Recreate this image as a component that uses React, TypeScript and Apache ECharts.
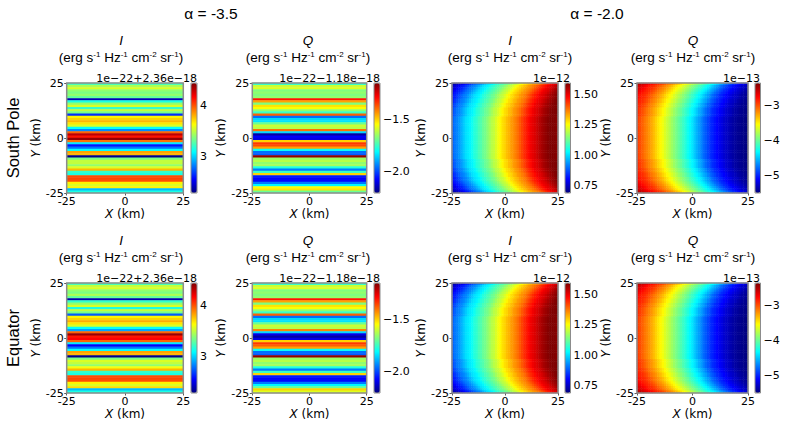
import { useEffect, useRef } from "react";
import * as echarts from "echarts";

// stripes, top row first, 50 rows per panel (offset units of 1e-22)
const SP_I_35 = [
  3.25, 3.45, 3.55, 3.4, 3.35, 3.4, 3.3, 2.4, 3.15, 3.4,
  3.55, 3.2, 3.5, 3.35, 2.65, 3.65, 3.72, 3.78, 3.68, 3.55,
  3.1, 2.85, 3.95, 4.3, 4.12, 4.38, 3.92, 3.05, 2.6, 2.8,
  3.1, 3.82, 3.78, 2.32, 3.35, 3.5, 3.5, 3.4, 3.55, 3.78,
  3.2, 3.15, 4.0, 4.02, 4.0, 3.65, 3.55, 3.65, 2.95, 3.15,
];
const SP_Q_35 = [
  -1.75, -1.6, -1.58, -1.68, -1.66, -1.68, -1.66, -1.3, -1.45, -1.68,
  -1.52, -1.55, -1.66, -1.75, -1.38, -1.96, -1.85, -1.84, -1.7, -1.6,
  -1.62, -1.4, -1.85, -2.17, -2.08, -2.1, -1.5, -1.34, -1.36, -1.45,
  -1.8, -1.96, -1.98, -1.17, -1.65, -1.62, -1.66, -1.64, -1.78, -1.95,
  -1.75, -1.5, -2.05, -2.08, -2.07, -1.95, -1.82, -1.55, -1.52, -1.7,
];
const EQ_I_35 = [
  3.25, 3.5, 3.55, 3.4, 3.35, 3.45, 3.3, 2.38, 3.2, 3.4,
  3.55, 3.15, 3.5, 3.35, 2.75, 3.65, 3.72, 3.8, 3.68, 3.55,
  3.1, 2.9, 3.95, 4.38, 4.12, 4.16, 3.95, 3.05, 2.55, 2.8,
  3.1, 3.82, 3.78, 2.32, 3.35, 3.55, 3.5, 3.4, 3.6, 3.78,
  3.2, 3.15, 4.0, 4.02, 4.0, 3.65, 3.55, 3.7, 2.95, 3.15,
];
const EQ_Q_35 = [
  -1.75, -1.6, -1.58, -1.68, -1.66, -1.68, -1.66, -1.3, -1.45, -1.68,
  -1.52, -1.55, -1.66, -1.75, -1.38, -1.96, -1.85, -1.84, -1.7, -1.6,
  -1.62, -1.42, -1.85, -2.1, -2.17, -2.1, -1.5, -1.34, -1.38, -1.45,
  -1.8, -1.96, -1.98, -1.17, -1.65, -1.62, -1.66, -1.64, -1.78, -1.95,
  -1.75, -1.5, -2.05, -2.08, -2.07, -1.95, -1.82, -1.7, -1.5, -1.58,
];

// alpha = -2.0, rows read across x = -24..24, from the edge of the disc (A) to its middle (J)
const I_A = [0.735, 0.74, 0.75, 0.77, 0.78, 0.8, 0.82, 0.83, 0.85, 0.87, 0.89, 0.91, 0.92, 0.94, 0.96, 0.98, 1.0, 1.01, 1.02, 1.04, 1.06, 1.07, 1.09, 1.1, 1.12, 1.13, 1.15, 1.17, 1.19, 1.2, 1.22, 1.24, 1.26, 1.28, 1.29, 1.31, 1.32, 1.34, 1.35, 1.365, 1.38, 1.4, 1.42, 1.44, 1.455, 1.47, 1.49, 1.5, 1.51];
const I_B = [0.75, 0.77, 0.78, 0.8, 0.82, 0.83, 0.85, 0.87, 0.89, 0.91, 0.92, 0.94, 0.96, 0.98, 1.0, 1.01, 1.02, 1.04, 1.06, 1.07, 1.09, 1.1, 1.12, 1.13, 1.15, 1.17, 1.19, 1.2, 1.22, 1.24, 1.26, 1.28, 1.29, 1.31, 1.32, 1.34, 1.35, 1.365, 1.38, 1.4, 1.42, 1.44, 1.455, 1.47, 1.49, 1.5, 1.51, 1.525, 1.54];
const I_C = [0.77, 0.78, 0.8, 0.82, 0.83, 0.85, 0.87, 0.89, 0.91, 0.92, 0.94, 0.96, 0.98, 1.0, 1.01, 1.02, 1.04, 1.06, 1.07, 1.09, 1.1, 1.12, 1.13, 1.15, 1.17, 1.19, 1.2, 1.22, 1.24, 1.26, 1.28, 1.29, 1.31, 1.32, 1.34, 1.35, 1.365, 1.38, 1.4, 1.42, 1.44, 1.455, 1.47, 1.49, 1.5, 1.51, 1.525, 1.54, 1.555];
const I_D = [0.78, 0.8, 0.82, 0.83, 0.85, 0.87, 0.89, 0.91, 0.92, 0.94, 0.96, 0.98, 1.0, 1.01, 1.02, 1.04, 1.06, 1.07, 1.09, 1.1, 1.12, 1.13, 1.15, 1.17, 1.19, 1.2, 1.22, 1.24, 1.26, 1.28, 1.29, 1.31, 1.32, 1.34, 1.35, 1.365, 1.38, 1.4, 1.42, 1.44, 1.455, 1.47, 1.49, 1.5, 1.51, 1.525, 1.54, 1.555, 1.565];
const I_E = [0.8, 0.82, 0.83, 0.85, 0.87, 0.89, 0.91, 0.92, 0.94, 0.96, 0.98, 1.0, 1.01, 1.02, 1.04, 1.06, 1.07, 1.09, 1.1, 1.12, 1.13, 1.15, 1.17, 1.19, 1.2, 1.22, 1.24, 1.26, 1.28, 1.29, 1.31, 1.32, 1.34, 1.35, 1.365, 1.38, 1.4, 1.42, 1.44, 1.455, 1.47, 1.49, 1.5, 1.51, 1.525, 1.54, 1.555, 1.565, 1.575];
const I_F = [0.82, 0.83, 0.85, 0.87, 0.89, 0.91, 0.92, 0.94, 0.96, 0.98, 1.0, 1.01, 1.02, 1.04, 1.06, 1.07, 1.09, 1.1, 1.12, 1.13, 1.15, 1.17, 1.19, 1.2, 1.22, 1.24, 1.26, 1.28, 1.29, 1.31, 1.32, 1.34, 1.35, 1.365, 1.38, 1.4, 1.42, 1.44, 1.455, 1.47, 1.49, 1.5, 1.51, 1.525, 1.54, 1.555, 1.565, 1.575, 1.585];
const I_G = [0.83, 0.85, 0.87, 0.89, 0.91, 0.92, 0.94, 0.96, 0.98, 1.0, 1.01, 1.02, 1.04, 1.06, 1.07, 1.09, 1.1, 1.12, 1.13, 1.15, 1.17, 1.19, 1.2, 1.22, 1.24, 1.26, 1.28, 1.29, 1.31, 1.32, 1.34, 1.35, 1.365, 1.38, 1.4, 1.42, 1.44, 1.455, 1.47, 1.49, 1.5, 1.51, 1.525, 1.54, 1.555, 1.565, 1.575, 1.585, 1.59];
const I_H = [0.85, 0.87, 0.89, 0.91, 0.92, 0.94, 0.96, 0.98, 1.0, 1.01, 1.02, 1.04, 1.06, 1.07, 1.09, 1.1, 1.12, 1.13, 1.15, 1.17, 1.19, 1.2, 1.22, 1.24, 1.26, 1.28, 1.29, 1.31, 1.32, 1.34, 1.35, 1.365, 1.38, 1.4, 1.42, 1.44, 1.455, 1.47, 1.49, 1.5, 1.51, 1.525, 1.54, 1.555, 1.565, 1.575, 1.585, 1.59, 1.59];
const I_I = [0.87, 0.89, 0.91, 0.92, 0.94, 0.96, 0.98, 1.0, 1.01, 1.02, 1.04, 1.06, 1.07, 1.09, 1.1, 1.12, 1.13, 1.15, 1.17, 1.19, 1.2, 1.22, 1.24, 1.26, 1.28, 1.29, 1.31, 1.32, 1.34, 1.35, 1.365, 1.38, 1.4, 1.42, 1.44, 1.455, 1.47, 1.49, 1.5, 1.51, 1.525, 1.54, 1.555, 1.565, 1.575, 1.585, 1.59, 1.59, 1.59];
const I_J = [0.89, 0.91, 0.92, 0.94, 0.96, 0.98, 1.0, 1.01, 1.02, 1.04, 1.06, 1.07, 1.09, 1.1, 1.12, 1.13, 1.15, 1.17, 1.19, 1.2, 1.22, 1.24, 1.26, 1.28, 1.29, 1.31, 1.32, 1.34, 1.35, 1.365, 1.38, 1.4, 1.42, 1.44, 1.455, 1.47, 1.49, 1.5, 1.51, 1.525, 1.54, 1.555, 1.565, 1.575, 1.585, 1.59, 1.59, 1.59, 1.58];

const Q_A = [-2.53, -2.56, -2.61, -2.65, -2.68, -2.73, -2.78, -2.83, -2.87, -2.9, -2.95, -3.0, -3.06, -3.12, -3.17, -3.22, -3.28, -3.34, -3.41, -3.47, -3.53, -3.59, -3.66, -3.72, -3.78, -3.85, -3.91, -3.97, -4.03, -4.1, -4.16, -4.22, -4.29, -4.35, -4.41, -4.49, -4.57, -4.63, -4.71, -4.79, -4.85, -4.91, -4.98, -5.02, -5.07, -5.12, -5.16, -5.21, -5.26];
const Q_B = [-2.61, -2.65, -2.68, -2.73, -2.78, -2.83, -2.87, -2.9, -2.95, -3.0, -3.06, -3.12, -3.17, -3.22, -3.28, -3.34, -3.41, -3.47, -3.53, -3.59, -3.66, -3.72, -3.78, -3.85, -3.91, -3.97, -4.03, -4.1, -4.16, -4.22, -4.29, -4.35, -4.41, -4.49, -4.57, -4.63, -4.71, -4.79, -4.85, -4.91, -4.98, -5.02, -5.07, -5.12, -5.16, -5.21, -5.26, -5.29, -5.32];
const Q_C = [-2.65, -2.68, -2.73, -2.78, -2.83, -2.87, -2.9, -2.95, -3.0, -3.06, -3.12, -3.17, -3.22, -3.28, -3.34, -3.41, -3.47, -3.53, -3.59, -3.66, -3.72, -3.78, -3.85, -3.91, -3.97, -4.03, -4.1, -4.16, -4.22, -4.29, -4.35, -4.41, -4.49, -4.57, -4.63, -4.71, -4.79, -4.85, -4.91, -4.98, -5.02, -5.07, -5.12, -5.16, -5.21, -5.26, -5.29, -5.32, -5.37];
const Q_D = [-2.68, -2.73, -2.78, -2.83, -2.87, -2.9, -2.95, -3.0, -3.06, -3.12, -3.17, -3.22, -3.28, -3.34, -3.41, -3.47, -3.53, -3.59, -3.66, -3.72, -3.78, -3.85, -3.91, -3.97, -4.03, -4.1, -4.16, -4.22, -4.29, -4.35, -4.41, -4.49, -4.57, -4.63, -4.71, -4.79, -4.85, -4.91, -4.98, -5.02, -5.07, -5.12, -5.16, -5.21, -5.26, -5.29, -5.32, -5.37, -5.4];
const Q_E = [-2.73, -2.78, -2.83, -2.87, -2.9, -2.95, -3.0, -3.06, -3.12, -3.17, -3.22, -3.28, -3.34, -3.41, -3.47, -3.53, -3.59, -3.66, -3.72, -3.78, -3.85, -3.91, -3.97, -4.03, -4.1, -4.16, -4.22, -4.29, -4.35, -4.41, -4.49, -4.57, -4.63, -4.71, -4.79, -4.85, -4.91, -4.98, -5.02, -5.07, -5.12, -5.16, -5.21, -5.26, -5.29, -5.32, -5.37, -5.4, -5.42];
const Q_F = [-2.78, -2.83, -2.87, -2.9, -2.95, -3.0, -3.06, -3.12, -3.17, -3.22, -3.28, -3.34, -3.41, -3.47, -3.53, -3.59, -3.66, -3.72, -3.78, -3.85, -3.91, -3.97, -4.03, -4.1, -4.16, -4.22, -4.29, -4.35, -4.41, -4.49, -4.57, -4.63, -4.71, -4.79, -4.85, -4.91, -4.98, -5.02, -5.07, -5.12, -5.16, -5.21, -5.26, -5.29, -5.32, -5.37, -5.4, -5.42, -5.45];
const Q_G = [-2.83, -2.87, -2.9, -2.95, -3.0, -3.06, -3.12, -3.17, -3.22, -3.28, -3.34, -3.41, -3.47, -3.53, -3.59, -3.66, -3.72, -3.78, -3.85, -3.91, -3.97, -4.03, -4.1, -4.16, -4.22, -4.29, -4.35, -4.41, -4.49, -4.57, -4.63, -4.71, -4.79, -4.85, -4.91, -4.98, -5.02, -5.07, -5.12, -5.16, -5.21, -5.26, -5.29, -5.32, -5.37, -5.4, -5.42, -5.45, -5.46];
const Q_H = [-2.87, -2.9, -2.95, -3.0, -3.06, -3.12, -3.17, -3.22, -3.28, -3.34, -3.41, -3.47, -3.53, -3.59, -3.66, -3.72, -3.78, -3.85, -3.91, -3.97, -4.03, -4.1, -4.16, -4.22, -4.29, -4.35, -4.41, -4.49, -4.57, -4.63, -4.71, -4.79, -4.85, -4.91, -4.98, -5.02, -5.07, -5.12, -5.16, -5.21, -5.26, -5.29, -5.32, -5.37, -5.4, -5.42, -5.45, -5.46, -5.48];
const Q_I = [-2.9, -2.95, -3.0, -3.06, -3.12, -3.17, -3.22, -3.28, -3.34, -3.41, -3.47, -3.53, -3.59, -3.66, -3.72, -3.78, -3.85, -3.91, -3.97, -4.03, -4.1, -4.16, -4.22, -4.29, -4.35, -4.41, -4.49, -4.57, -4.63, -4.71, -4.79, -4.85, -4.91, -4.98, -5.02, -5.07, -5.12, -5.16, -5.21, -5.26, -5.29, -5.32, -5.37, -5.4, -5.42, -5.45, -5.46, -5.48, -5.49];
const Q_J = [-2.95, -3.0, -3.06, -3.12, -3.17, -3.22, -3.28, -3.34, -3.41, -3.47, -3.53, -3.59, -3.66, -3.72, -3.78, -3.85, -3.91, -3.97, -4.03, -4.1, -4.16, -4.22, -4.29, -4.35, -4.41, -4.49, -4.57, -4.63, -4.71, -4.79, -4.85, -4.91, -4.98, -5.02, -5.07, -5.12, -5.16, -5.21, -5.26, -5.29, -5.32, -5.37, -5.4, -5.42, -5.45, -5.46, -5.48, -5.49, -5.51];

// rows for y = 24, 23, ... 0; the lower half of the disc mirrors them
const I_20_TOP = [I_A, I_B, I_C, I_D, I_E, I_F, I_F, I_G, I_G, I_H, I_H, I_I, I_I, I_I, I_I, I_J, I_J, I_J, I_J, I_J, I_J, I_J, I_J, I_J, I_J];
const Q_20_TOP = [Q_A, Q_B, Q_C, Q_D, Q_E, Q_F, Q_F, Q_G, Q_G, Q_H, Q_H, Q_I, Q_I, Q_I, Q_I, Q_J, Q_J, Q_J, Q_J, Q_J, Q_J, Q_J, Q_J, Q_J, Q_J];

const X_TICKS = [-25, 0, 25];
const ROW_TITLES = ["South Pole", "Equator"];
const ALPHA_TITLES = ["α = -3.5", "α = -2.0"];
const STOKES = ["I", "Q", "I", "Q"];
const OFFSET_TEXTS = ["1e−22+2.36e−18", "1e−22−1.18e−18", "1e−12", "1e−13"];
const CBAR_MIN = [2.29, -2.207, 0.69, -5.51];
const CBAR_MAX = [4.43, -1.15, 1.59, -2.37];
const CBAR_TICKS = [[3, 4], [-2, -1.5], [0.75, 1, 1.25, 1.5], [-5, -4, -3]];
const CBAR_DIGITS = [0, 1, 2, 0];

const JET = ["#00007f", "#0000ff", "#007fff", "#00ffff", "#7fff7f", "#ffff00", "#ff7f00", "#ff0000", "#7f0000"];
const TICK_FONT = "DejaVu Sans";
const TITLE_FONT = "Liberation Sans";

// layout in px
const PANEL_LEFT = [66.7, 252.3, 452, 637];
const PANEL_WIDTH = [116.6, 114.4, 106, 111];
const CBAR_LEFT = [191, 374, 565, 755];
const CBAR_WIDTH = [6, 6, 5.5, 5.5];
const OFFSET_RIGHT = [197, 380, 570, 760];
const TITLE_CENTER = [121, 308, 510, 693];
const ROW_TOP = [83, 283];
const ROW_HEIGHT = 110;

const mirrored = (rows: number[][]) => rows.concat(rows.slice(0, -1).reverse());

function stripes(values: number[]) {
  return values.map((v, row) => [0, row, v]);
}

function cells(rows: number[][]) {
  return mirrored(rows).flatMap((r, row) => r.map((v, col) => [col, row, v]));
}

const PANEL_DATA = [
  [stripes(SP_I_35), stripes(SP_Q_35), cells(I_20_TOP), cells(Q_20_TOP)],
  [stripes(EQ_I_35), stripes(EQ_Q_35), cells(I_20_TOP), cells(Q_20_TOP)],
];

function buildOption() {
  const grid: any[] = [];
  const xAxis: any[] = [];
  const yAxis: any[] = [];
  const series: any[] = [];
  const visualMap: any[] = [];
  const graphic: any[] = [];

  const tickLabel = { color: "#000", fontFamily: TICK_FONT, fontSize: 11, margin: 3 };
  const tickMark = { length: 2.5, lineStyle: { color: "#333", width: 0.8 } };
  const nameStyle = {
    color: "#000",
    fontFamily: TICK_FONT,
    fontSize: 12,
    rich: { i: { fontStyle: "italic", fontFamily: TICK_FONT, fontSize: 12, color: "#000" } },
  };

  ROW_TOP.forEach((top, r) => {
    STOKES.forEach((stokes, c) => {
      const data = PANEL_DATA[r][c];
      const cols = c < 2 ? 1 : I_20_TOP[0].length;
      const rows = c < 2 ? data.length : mirrored(I_20_TOP).length;

      // image panel: hidden category axes hold the cells, value axes show the km scale
      const g = grid.length;
      grid.push({
        left: PANEL_LEFT[c],
        top,
        width: PANEL_WIDTH[c],
        height: ROW_HEIGHT,
        show: true,
        z: 10,
        backgroundColor: "transparent",
        borderColor: "#8c8c8c",
        borderWidth: 1.5,
      });
      const xCat = xAxis.length;
      xAxis.push({ gridIndex: g, type: "category", show: false, position: "top", data: Array.from({ length: cols }, (_, i) => i) });
      xAxis.push({
        gridIndex: g,
        type: "value",
        position: "bottom",
        min: X_TICKS[0],
        max: X_TICKS[2],
        interval: 25,
        splitLine: { show: false },
        axisLine: { show: false },
        axisTick: tickMark,
        axisLabel: tickLabel,
        name: "{i|X} (km)",
        nameLocation: "middle",
        nameGap: 13,
        nameTextStyle: nameStyle,
      });
      const yCat = yAxis.length;
      yAxis.push({ gridIndex: g, type: "category", show: false, position: "right", inverse: true, data: Array.from({ length: rows }, (_, i) => i) });
      yAxis.push({
        gridIndex: g,
        type: "value",
        position: "left",
        min: X_TICKS[0],
        max: X_TICKS[2],
        interval: 25,
        splitLine: { show: false },
        axisLine: { show: false },
        axisTick: tickMark,
        axisLabel: tickLabel,
        name: "{i|Y} (km)",
        nameLocation: "middle",
        nameGap: c < 2 ? 23 : 20,
        nameRotate: 90,
        nameTextStyle: nameStyle,
      });
      const seriesIndex = series.length;
      series.push({
        type: "heatmap",
        xAxisIndex: xCat,
        yAxisIndex: yCat,
        data,
        progressive: 0,
        silent: true,
      });
      visualMap.push({
        type: "continuous",
        seriesIndex,
        min: CBAR_MIN[c],
        max: CBAR_MAX[c],
        left: CBAR_LEFT[c],
        top,
        itemWidth: CBAR_WIDTH[c],
        itemHeight: ROW_HEIGHT,
        padding: 0,
        calculable: false,
        hoverLink: false,
        text: null,
        inRange: { color: JET },
      });

      // colorbar scale on top of the visualMap bar
      const cg = grid.length;
      grid.push({
        left: CBAR_LEFT[c],
        top,
        width: CBAR_WIDTH[c],
        height: ROW_HEIGHT,
        show: true,
        z: 10,
        backgroundColor: "transparent",
        borderColor: "#8c8c8c",
        borderWidth: 1,
      });
      xAxis.push({ gridIndex: cg, type: "value", show: false, min: 0, max: 1 });
      yAxis.push({
        gridIndex: cg,
        type: "value",
        position: "right",
        min: CBAR_MIN[c],
        max: CBAR_MAX[c],
        splitLine: { show: false },
        axisLine: { show: false },
        axisTick: { ...tickMark, customValues: CBAR_TICKS[c] },
        axisLabel: {
          ...tickLabel,
          customValues: CBAR_TICKS[c],
          formatter: (v: number) => v.toFixed(CBAR_DIGITS[c]).replace("-", "−"),
        },
      });

      graphic.push({
        type: "text",
        x: TITLE_CENTER[c],
        y: top - 43,
        style: {
          text: stokes,
          align: "center",
          verticalAlign: "middle",
          fill: "#000",
          font: `italic 13.5px "${TITLE_FONT}"`,
        },
      });
      graphic.push({
        type: "text",
        x: TITLE_CENTER[c],
        y: top - 26,
        style: {
          text: "(erg s{s|-1} Hz{s|-1} cm{s|-2} sr{s|-1})",
          align: "center",
          verticalAlign: "middle",
          fill: "#000",
          font: `13.5px "${TITLE_FONT}"`,
          rich: { s: { fontSize: 8, fontFamily: TITLE_FONT, verticalAlign: "top", fill: "#000" } },
        },
      });
      graphic.push({
        type: "text",
        x: OFFSET_RIGHT[c],
        y: top - 5,
        style: {
          text: OFFSET_TEXTS[c],
          align: "right",
          verticalAlign: "middle",
          fill: "#000",
          font: `11px "${TICK_FONT}"`,
        },
      });
    });

    graphic.push({
      type: "text",
      x: 13,
      y: top + 55,
      rotation: Math.PI / 2,
      style: {
        text: ROW_TITLES[r],
        align: "center",
        verticalAlign: "middle",
        fill: "#000",
        font: `16.5px "${TITLE_FONT}"`,
      },
    });
  });

  ALPHA_TITLES.forEach((text, i) => {
    graphic.push({
      type: "text",
      x: i === 0 ? 211 : 597,
      y: 13,
      style: { text, align: "center", verticalAlign: "middle", fill: "#000", font: `15.5px "${TITLE_FONT}"` },
    });
  });

  return { animation: false, backgroundColor: "#fff", grid, xAxis, yAxis, series, visualMap, graphic };
}

export default function App() {
  const chartRef = useRef<HTMLDivElement | null>(null);

  useEffect(() => {
    if (!chartRef.current) return;
    const chart = echarts.init(chartRef.current, undefined, { renderer: "svg" });
    chart.setOption(buildOption() as any);
    return () => chart.dispose();
  }, []);

  return <div ref={chartRef} style={{ position: "absolute", left: 0, top: 0, width: 789, height: 444 }} />;
}
